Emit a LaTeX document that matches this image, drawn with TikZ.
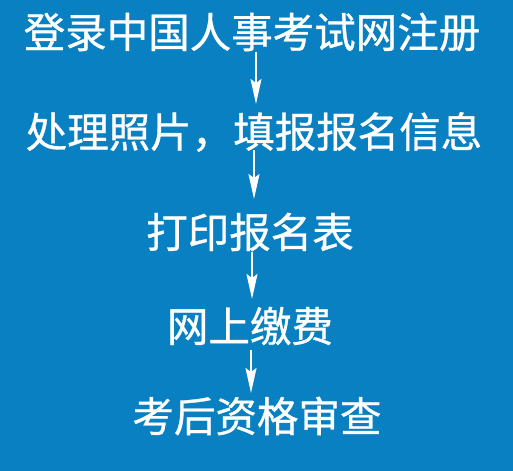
\documentclass[tikz,border=0pt]{standalone}
\usepackage{fontspec}
\setmainfont{Noto Sans CJK SC}[FakeBold=0.8]
\usetikzlibrary{arrows.meta}
\definecolor{bgblue}{RGB}{8,128,193}

\begin{document}
\begin{tikzpicture}[x=1bp, y=-1bp,
	every node/.style={text=white, font=\fontsize{41.5bp}{45bp}\selectfont, inner sep=0pt},
	flow/.style={draw=white, line width=1.8bp, -{Stealth[length=25bp, width=11bp, inset=4bp]}}]
	\fill[bgblue] (0,0) rectangle (513,471);
	\node (reg) at (252,32) {登录中国人事考试网注册};
	\node (photo) at (254,132) {处理照片，填报报名信息};
	\node (print) at (250,232) {打印报名表};
	\node (pay) at (250,326) {网上缴费};
	\node (check) at (257,416) {考后资格审查};
	
	\coordinate (a1) at (256,52);
	\coordinate (b1) at (256,104);
	\coordinate (a2) at (254,150);
	\coordinate (b2) at (254,199);
	\coordinate (a3) at (252,252);
	\coordinate (b3) at (252,299);
	\coordinate (a4) at (251,350);
	\coordinate (b4) at (251,393);
	
	\draw[flow] (a1) -- (b1);
	\draw[flow] (a2) -- (b2);
	\draw[flow] (a3) -- (b3);
	\draw[flow] (a4) -- (b4);
\end{tikzpicture}
\end{document}
